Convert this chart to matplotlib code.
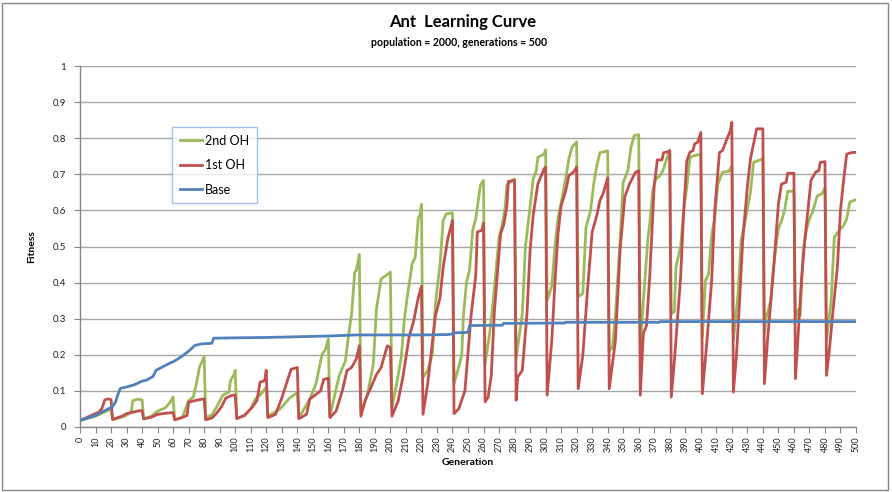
import matplotlib
matplotlib.use('Agg')
import matplotlib.pyplot as plt
import numpy as np
from matplotlib.patches import Rectangle

plt.rcParams['font.family'] = ['Lato', 'DejaVu Sans']

# Fitness per generation (one line per 20-generation cycle)
oh2_points = [
    (0, 0.018), (10, 0.03), (15, 0.04), (20, 0.05),
    (21, 0.02), (29, 0.03), (33, 0.041), (34, 0.073), (37, 0.077), (40, 0.075),
    (41, 0.022), (46, 0.03), (50, 0.044), (55, 0.053), (58, 0.068), (60, 0.083),
    (61, 0.02), (66, 0.027), (70, 0.073), (73, 0.083), (75, 0.12), (77, 0.166), (80, 0.195),
    (81, 0.027), (85, 0.033), (89, 0.063), (92, 0.088), (96, 0.097), (97, 0.129), (99, 0.143), (100, 0.157),
    (101, 0.025), (106, 0.032), (110, 0.05), (113, 0.078), (116, 0.088), (120, 0.11),
    (121, 0.03), (129, 0.05), (135, 0.08), (140, 0.095),
    (141, 0.025), (148, 0.077), (152, 0.119), (156, 0.202), (158, 0.213), (160, 0.244),
    (161, 0.03), (167, 0.142), (171, 0.183), (173, 0.253), (175, 0.313), (177, 0.429), (178, 0.433), (180, 0.478),
    (181, 0.04), (185, 0.086), (189, 0.174), (191, 0.327), (194, 0.41), (197, 0.419), (200, 0.429),
    (201, 0.054), (204, 0.119), (207, 0.193), (209, 0.299), (211, 0.364), (214, 0.452), (216, 0.47),
    (218, 0.581), (219, 0.586), (220, 0.617),
    (221, 0.137), (224, 0.156), (227, 0.202), (229, 0.341), (232, 0.452), (234, 0.572), (236, 0.59), (240, 0.593),
    (241, 0.12), (244, 0.166), (246, 0.2), (247, 0.305), (249, 0.4), (251, 0.435), (253, 0.545), (255, 0.577),
    (258, 0.67), (260, 0.683),
    (261, 0.175), (264, 0.26), (266, 0.34), (270, 0.525), (272, 0.56), (274, 0.61), (275, 0.67), (279, 0.685), (280, 0.687),
    (281, 0.19), (285, 0.314), (287, 0.5), (290, 0.61), (292, 0.687), (294, 0.71), (295, 0.747), (299, 0.756), (300, 0.768),
    (301, 0.35), (304, 0.39), (306, 0.5), (308, 0.58), (310, 0.62), (313, 0.69), (315, 0.743), (317, 0.775), (320, 0.79),
    (321, 0.36), (324, 0.37), (326, 0.553), (329, 0.6), (331, 0.673), (333, 0.724), (335, 0.76), (340, 0.765),
    (341, 0.21), (343, 0.22), (345, 0.31), (348, 0.517), (350, 0.678), (353, 0.71), (355, 0.775), (357, 0.807), (360, 0.81),
    (361, 0.22), (363, 0.35), (366, 0.526), (367, 0.558), (369, 0.655), (371, 0.687), (374, 0.697), (376, 0.715),
    (378, 0.743), (380, 0.768),
    (381, 0.314), (383, 0.32), (384, 0.443), (387, 0.5), (389, 0.6), (391, 0.664), (393, 0.747), (396, 0.752), (400, 0.756),
    (401, 0.25), (403, 0.406), (405, 0.424), (407, 0.53), (409, 0.58), (411, 0.673), (414, 0.706), (418, 0.708), (420, 0.724),
    (421, 0.24), (424, 0.37), (426, 0.517), (429, 0.58), (432, 0.65), (434, 0.733), (437, 0.738), (440, 0.743),
    (441, 0.26), (442, 0.3), (445, 0.35), (447, 0.45), (450, 0.55), (452, 0.57), (454, 0.6), (456, 0.653), (460, 0.653),
    (461, 0.295), (463, 0.327), (464, 0.31), (466, 0.49), (468, 0.544), (470, 0.577), (472, 0.595), (475, 0.64),
    (478, 0.646), (480, 0.662),
    (481, 0.24), (484, 0.35), (486, 0.526), (490, 0.549), (492, 0.558), (494, 0.577), (496, 0.623), (500, 0.63),
]

oh1_points = [
    (0, 0.018), (12, 0.041), (14, 0.05), (16, 0.075), (18, 0.078), (20, 0.076),
    (21, 0.021), (27, 0.03), (30, 0.037), (33, 0.04), (38, 0.045), (40, 0.045),
    (41, 0.023), (46, 0.027), (50, 0.035), (55, 0.038), (60, 0.04),
    (61, 0.02), (65, 0.025), (69, 0.032), (70, 0.069), (73, 0.072), (76, 0.075), (80, 0.078),
    (81, 0.02), (85, 0.025), (88, 0.038), (91, 0.055), (94, 0.08), (98, 0.088), (100, 0.088),
    (101, 0.023), (106, 0.032), (111, 0.055), (114, 0.073), (116, 0.124), (119, 0.129), (120, 0.157),
    (121, 0.026), (126, 0.035), (130, 0.08), (133, 0.12), (136, 0.16), (140, 0.165),
    (141, 0.023), (146, 0.035), (148, 0.077), (151, 0.087), (155, 0.1), (157, 0.132), (160, 0.135),
    (161, 0.026), (165, 0.044), (169, 0.1), (172, 0.156), (175, 0.165), (178, 0.188), (180, 0.225),
    (181, 0.03), (184, 0.077), (188, 0.115), (191, 0.145), (194, 0.165), (198, 0.225), (200, 0.22),
    (201, 0.03), (205, 0.072), (208, 0.137), (212, 0.248), (215, 0.294), (218, 0.359), (220, 0.39),
    (221, 0.035), (224, 0.119), (229, 0.308), (232, 0.359), (234, 0.443), (237, 0.522), (240, 0.572),
    (241, 0.037), (244, 0.05), (248, 0.1), (252, 0.31), (255, 0.42), (256, 0.54), (259, 0.545), (260, 0.565),
    (261, 0.07), (263, 0.083), (265, 0.143), (267, 0.32), (271, 0.535), (273, 0.56), (275, 0.61), (276, 0.68), (280, 0.683),
    (281, 0.074), (282, 0.138), (285, 0.157), (288, 0.314), (290, 0.49), (292, 0.586), (295, 0.673), (299, 0.715), (300, 0.72),
    (301, 0.088), (304, 0.24), (306, 0.4), (308, 0.535), (310, 0.613), (313, 0.655), (315, 0.697), (318, 0.706), (320, 0.72),
    (321, 0.106), (324, 0.2), (327, 0.38), (330, 0.54), (333, 0.586), (335, 0.627), (337, 0.646), (340, 0.69),
    (341, 0.106), (345, 0.24), (348, 0.49), (351, 0.637), (354, 0.673), (358, 0.706), (360, 0.71),
    (361, 0.088), (363, 0.26), (365, 0.28), (367, 0.41), (370, 0.67), (372, 0.74), (375, 0.74), (376, 0.76), (380, 0.764),
    (381, 0.083), (383, 0.185), (387, 0.415), (389, 0.6), (391, 0.738), (393, 0.761), (395, 0.766), (396, 0.784),
    (398, 0.789), (400, 0.816),
    (401, 0.092), (404, 0.24), (407, 0.406), (409, 0.6), (412, 0.76), (414, 0.766), (417, 0.8), (419, 0.82), (420, 0.844),
    (421, 0.097), (423, 0.2), (425, 0.35), (427, 0.517), (430, 0.665), (432, 0.743), (434, 0.784), (436, 0.826), (440, 0.826),
    (441, 0.12), (443, 0.24), (447, 0.443), (450, 0.618), (452, 0.673), (455, 0.678), (456, 0.703), (460, 0.703),
    (461, 0.134), (463, 0.277), (465, 0.415), (467, 0.517), (469, 0.6), (471, 0.683), (474, 0.706), (476, 0.71),
    (477, 0.733), (480, 0.735),
    (481, 0.143), (483, 0.22), (485, 0.314), (488, 0.443), (490, 0.6), (492, 0.683), (494, 0.756), (497, 0.76), (500, 0.761),
]

base_points = [
    (0, 0.018), (10, 0.032), (19, 0.052), (21, 0.057), (23, 0.07), (24, 0.085), (26, 0.107),
    (31, 0.112), (35, 0.117), (40, 0.127), (43, 0.13), (47, 0.14), (49, 0.157), (53, 0.166),
    (57, 0.175), (61, 0.183), (65, 0.194), (70, 0.21), (74, 0.226), (78, 0.23), (85, 0.232),
    (86, 0.246), (100, 0.247), (120, 0.248), (140, 0.25), (160, 0.252), (178, 0.255), (200, 0.255),
    (220, 0.255), (237, 0.256), (240, 0.258), (242, 0.261), (250, 0.262), (251, 0.281), (272, 0.282),
    (273, 0.287), (312, 0.288), (313, 0.29), (373, 0.29), (374, 0.292), (500, 0.292),
]

series_names = ['2nd OH', '1st OH', 'Base']
series_colors = ['#9BBB59', '#C0504D', '#4F81BD']

x_ticks = list(range(0, 501, 10))
y_ticks = [0, 0.1, 0.2, 0.3, 0.4, 0.5, 0.6, 0.7, 0.8, 0.9, 1]
y_tick_labels = ['0', '0.1', '0.2', '0.3', '0.4', '0.5', '0.6', '0.7', '0.8', '0.9', '1']

fig = plt.figure(figsize=(8.92, 4.92), dpi=100, facecolor='white')
ax = fig.add_axes([80 / 892, 1 - 427 / 492, 776 / 892, 361 / 492])

for pts, name, col in zip([oh2_points, oh1_points, base_points], series_names, series_colors):
    gen, fit = np.array(pts).T
    ax.plot(gen, fit, color=col, lw=2.0, label=name, solid_joinstyle='round')

ax.set_xlim(0, 500)
ax.set_ylim(0, 1)
ax.set_xticks(x_ticks)
ax.set_xticklabels([str(t) for t in x_ticks], rotation=90, fontsize=6.5, color='#222222')
ax.set_yticks(y_ticks)
ax.set_yticklabels(y_tick_labels, fontsize=7, color='#222222')
ax.tick_params(axis='x', length=4, width=0.8, color='#868686', pad=3)
ax.tick_params(axis='y', length=4, width=0.8, color='#868686', pad=6)

ax.grid(axis='y', color='#A6A6A6', lw=1)
ax.set_axisbelow(True)
for side in ['top', 'right']:
    ax.spines[side].set_visible(False)
for side in ['left', 'bottom']:
    ax.spines[side].set_color('#868686')
    ax.spines[side].set_linewidth(1)

ax.set_xlabel('Generation', fontsize=7.5, fontweight='bold', labelpad=4)
ax.set_ylabel('Fitness', fontsize=7.5, fontweight='bold', labelpad=12)

leg = ax.legend(loc='upper left', bbox_to_anchor=(0.1186, 0.83), fontsize=9,
                frameon=True, fancybox=False, handlelength=1.8, handletextpad=0.25,
                labelspacing=1.0, borderpad=0.6, borderaxespad=0)
leg.get_frame().set_edgecolor('#8EB4E3')
leg.get_frame().set_linewidth(1)

fig.text(0.519, 1 - 22 / 492, 'Ant  Learning Curve', ha='center', va='center',
         fontsize=12, fontweight='bold')
fig.text(0.515, 1 - 42 / 492, 'population = 2000, generations = 500', ha='center', va='center',
         fontsize=7.6, fontweight='bold')

# Chart area border
fig.patches.append(Rectangle((2 / 892, 2 / 492), 886 / 892, 487 / 492, transform=fig.transFigure,
                             fill=False, edgecolor='#868686', lw=1))

fig.savefig('out.png', dpi=100, facecolor='white')
